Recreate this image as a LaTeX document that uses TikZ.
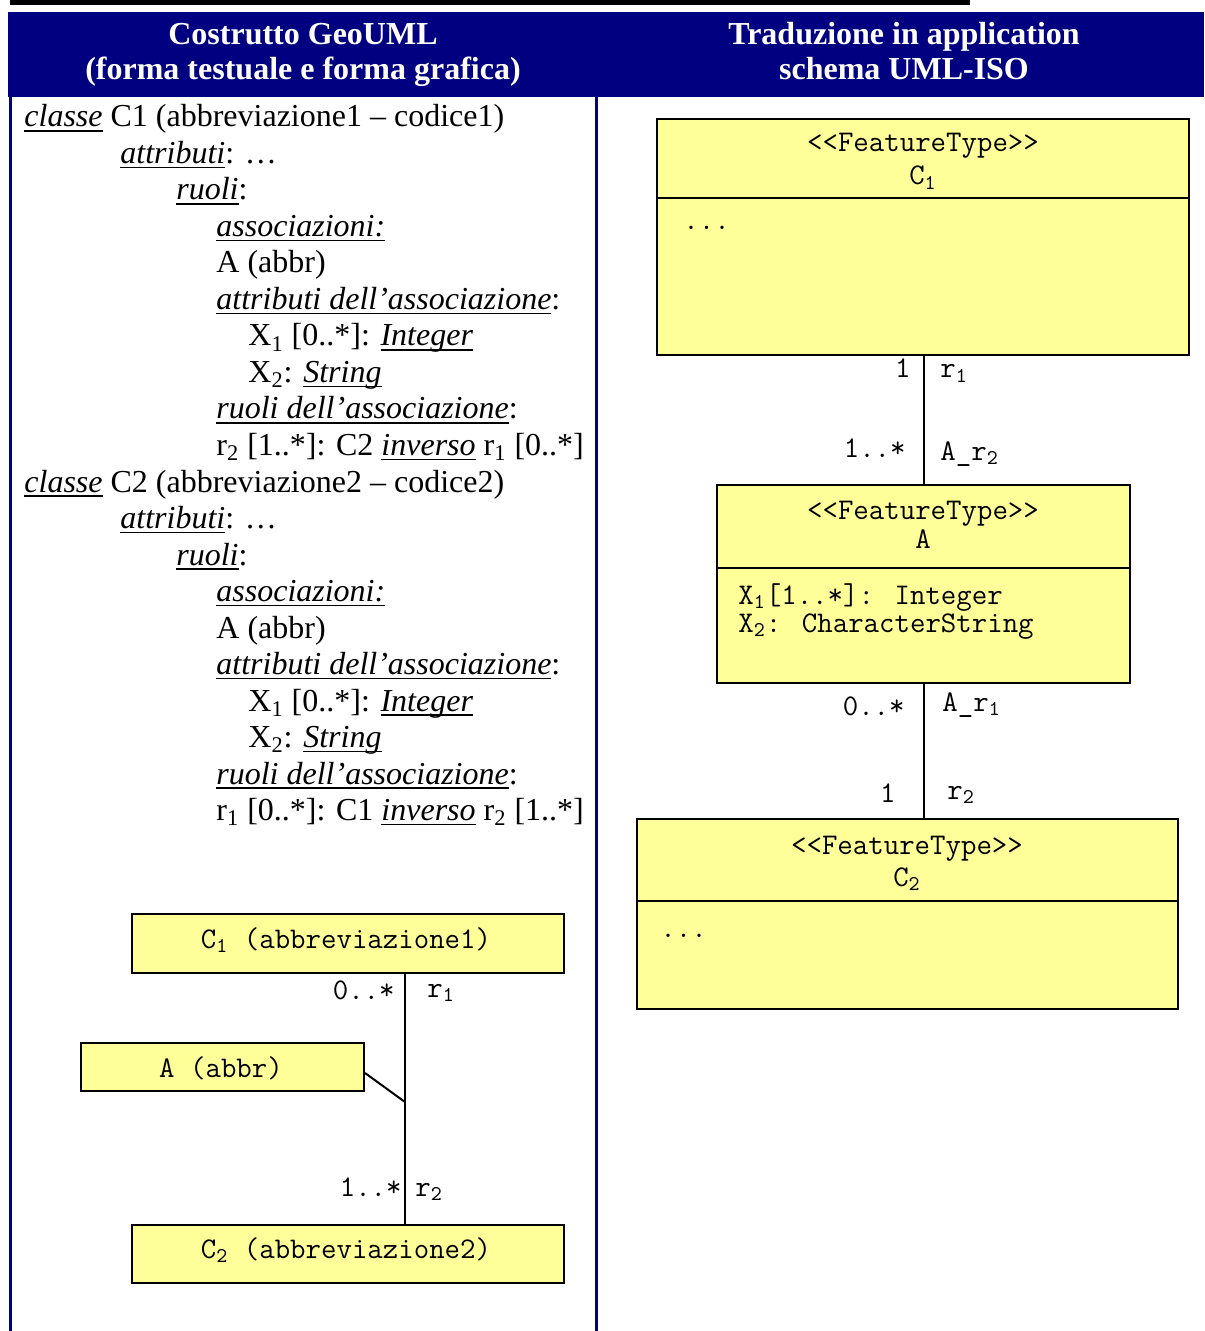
\documentclass[tikz,border=0pt]{standalone}
\usepackage{fontspec}
\setmainfont{Liberation Serif}
\definecolor{hdrblue}{RGB}{0,0,128}
\definecolor{umlyellow}{RGB}{255,255,153}
\newsavebox{\uibox}
\newcommand{\ui}[1]{\sbox{\uibox}{\itshape #1}\rlap{\rule[-2.4pt]{\wd\uibox}{0.8pt}}\usebox{\uibox}}
\newcommand{\sbs}[1]{\textsubscript{#1}}

\begin{document}
\begin{tikzpicture}[x=0.5pt,y=-0.5pt,
  txt/.style={anchor=base west, inner sep=0pt, font=\fontsize{16}{18}\selectfont},
  hdr/.style={anchor=base, inner sep=0pt, text=white, font=\bfseries\fontsize{16}{18}\selectfont},
  mono/.style={inner sep=0pt, font=\ttfamily\fontsize{15}{17}\selectfont},
  umlbox/.style={draw=black, line width=1pt, fill=umlyellow, inner sep=0pt},
  conn/.style={line width=1pt, draw=black},
  frameline/.style={draw=hdrblue, line width=1.5pt}
]
\useasboundingbox (0,0) rectangle (1204,1331);

% top bar and header
\fill[black] (10,0) rectangle (970,5);
\fill[hdrblue] (8,12) rectangle (1204,97);
\draw[frameline] (10,97) -- (10,1331);
\draw[frameline] (596,97) -- (596,1331);

\node[hdr] (h1a) at (303,45) {Costrutto GeoUML};
\node[hdr] (h1b) at (303,80) {(forma testuale e forma grafica)};
\node[hdr] (h2a) at (904,45) {Traduzione in application};
\node[hdr] (h2b) at (904,80) {schema UML-ISO};

% left textual form
\node[txt] (l0) at (24,127) {\ui{classe} C1 (abbreviazione1 – codice1)};
\node[txt] (l1) at (120,163.5) {\ui{attributi}: …};
\node[txt] (l2) at (176,200) {\ui{ruoli}:};
\node[txt] (l3) at (216,236.5) {\ui{associazioni:}};
\node[txt] (l4) at (216,273) {A (abbr)};
\node[txt] (l5) at (216,309.5) {\ui{attributi dell’associazione}:};
\node[txt] (l6) at (248,346) {X\sbs{1} [0..*]: \ui{Integer}};
\node[txt] (l7) at (248,382.5) {X\sbs{2}: \ui{String}};
\node[txt] (l8) at (216,419) {\ui{ruoli dell’associazione}:};
\node[txt] (l9) at (216,455.5) {r\sbs{2} [1..*]: C2 \ui{inverso} r\sbs{1} [0..*]};
\node[txt] (l10) at (24,492) {\ui{classe} C2 (abbreviazione2 – codice2)};
\node[txt] (l11) at (120,528.5) {\ui{attributi}: …};
\node[txt] (l12) at (176,565) {\ui{ruoli}:};
\node[txt] (l13) at (216,601.5) {\ui{associazioni:}};
\node[txt] (l14) at (216,638) {A (abbr)};
\node[txt] (l15) at (216,674.5) {\ui{attributi dell’associazione}:};
\node[txt] (l16) at (248,711) {X\sbs{1} [0..*]: \ui{Integer}};
\node[txt] (l17) at (248,747.5) {X\sbs{2}: \ui{String}};
\node[txt] (l18) at (216,784) {\ui{ruoli dell’associazione}:};
\node[txt] (l19) at (216,820.5) {r\sbs{1} [0..*]: C1 \ui{inverso} r\sbs{2} [1..*]};

% left graphical form
\node[umlbox, minimum width=216pt, minimum height=29.5pt] (c1g) at (347.5,943.5) {};
\node[mono, anchor=base] (c1gt) at (346,948) {C\sbs{1} (abbreviazione1)};
\node[umlbox, minimum width=141.5pt, minimum height=24pt] (ag) at (222.5,1067) {};
\node[mono, anchor=base] (agt) at (221,1077) {A (abbr)};
\node[umlbox, minimum width=216pt, minimum height=29pt] (c2g) at (347.5,1254) {};
\node[mono, anchor=base] (c2gt) at (346,1258) {C\sbs{2} (abbreviazione2)};
\coordinate (jn) at (405,1102);
\draw[conn] (c1g.south -| jn) -- (c2g.north -| jn);
\draw[conn] ([yshift=-3pt]ag.east) -- (jn);
\node[mono, anchor=base east] (g1) at (395,999) {0..*};
\node[mono, anchor=base west] (g2) at (427,997) {r\sbs{1}};
\node[mono, anchor=base east] (g3) at (402,1196) {1..*};
\node[mono, anchor=base west] (g4) at (415,1196) {r\sbs{2}};

% right UML-ISO schema
\node[umlbox, minimum width=266pt, minimum height=118pt] (c1r) at (923,237) {};
\draw[conn] (c1r.west |- 0,198) -- (c1r.east |- 0,198);
\node[mono, anchor=base] (c1st) at (923,152) {<{}<FeatureType>{}>};
\node[mono, anchor=base] (c1nm) at (923,185) {C\sbs{1}};
\node[mono, anchor=base west] (c1dots) at (683,230) {...};

\node[umlbox, minimum width=206.5pt, minimum height=99pt] (ar) at (923.5,584) {};
\draw[conn] (ar.west |- 0,568) -- (ar.east |- 0,568);
\node[mono, anchor=base] (ast) at (923,519) {<{}<FeatureType>{}>};
\node[mono, anchor=base] (anm) at (923,548) {A};
\node[mono, anchor=base west] (ax1) at (738,604) {X\sbs{1}[1..*]: Integer};
\node[mono, anchor=base west] (ax2) at (738,632) {X\sbs{2}: CharacterString};

\node[umlbox, minimum width=270.5pt, minimum height=95pt] (c2r) at (907.5,914) {};
\draw[conn] (c2r.west |- 0,901) -- (c2r.east |- 0,901);
\node[mono, anchor=base] (c2st) at (907,854) {<{}<FeatureType>{}>};
\node[mono, anchor=base] (c2nm) at (907,886) {C\sbs{2}};
\node[mono, anchor=base west] (c2dots) at (660,937) {...};

\draw[conn] (ar.north |- c1r.south) -- (ar.north);
\draw[conn] (ar.south) -- (ar.south |- c2r.north);

\node[mono, anchor=base east] (m1) at (911,378) {1};
\node[mono, anchor=base west] (m2) at (940,378) {r\sbs{1}};
\node[mono, anchor=base east] (m3) at (906,458) {1..*};
\node[mono, anchor=base west] (m4) at (940,460) {A\_r\sbs{2}};
\node[mono, anchor=base east] (m5) at (905,715) {0..*};
\node[mono, anchor=base west] (m6) at (942,711) {A\_r\sbs{1}};
\node[mono, anchor=base east] (m7) at (896,802) {1};
\node[mono, anchor=base west] (m8) at (947,799) {r\sbs{2}};
\end{tikzpicture}
\end{document}
